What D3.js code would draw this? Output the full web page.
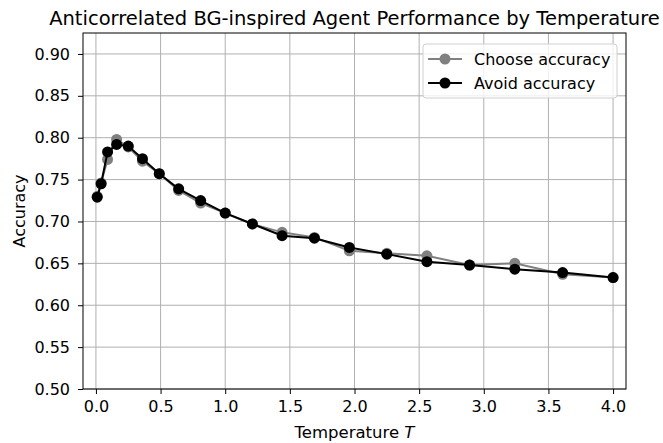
<!DOCTYPE html>
<html>
<head>
<meta charset="utf-8">
<script src="https://cdn.jsdelivr.net/npm/d3@7"></script>
<style>
    body { margin: 0; background: #fff; }
    text { font-family: "DejaVu Sans", sans-serif; fill: #000; }
</style>
</head>
<body>
<svg id="chart" width="663" height="443"></svg>
<script>
// Données
const temperatures = [0.01, 0.04, 0.09, 0.16, 0.25, 0.36, 0.49, 0.64, 0.81, 1.0,
    1.21, 1.44, 1.69, 1.96, 2.25, 2.56, 2.89, 3.24, 3.61, 4.0];
const chooseAccuracy = [0.730, 0.746, 0.774, 0.798, 0.789, 0.772, 0.757, 0.737, 0.722, 0.710,
    0.697, 0.687, 0.681, 0.665, 0.662, 0.659, 0.648, 0.650, 0.637, 0.633];
const avoidAccuracy = [0.729, 0.745, 0.783, 0.792, 0.790, 0.775, 0.757, 0.739, 0.725, 0.710,
    0.697, 0.683, 0.680, 0.669, 0.661, 0.652, 0.648, 0.643, 0.639, 0.633];
const xTicks = [0, 0.5, 1, 1.5, 2, 2.5, 3, 3.5, 4];
const yTicks = [0.50, 0.55, 0.60, 0.65, 0.70, 0.75, 0.80, 0.85, 0.90];
const seriesNames = ['Choose accuracy', 'Avoid accuracy'];
const seriesColors = ['#808080', '#000000'];

const svg = d3.select('#chart');
const margin = { top: 33, right: 37, bottom: 54, left: 83 };
const width = 663 - margin.left - margin.right;
const height = 443 - margin.top - margin.bottom;

const x = d3.scaleLinear().domain([-0.1, 4.1]).range([0, width]);
const y = d3.scaleLinear().domain([0.5, 0.925]).range([height, 0]);

const plot = svg.append('g')
    .attr('transform', `translate(${margin.left},${margin.top})`);

// Grille
plot.append('g').selectAll('line').data(xTicks).enter().append('line')
    .attr('x1', d => x(d)).attr('x2', d => x(d))
    .attr('y1', 0).attr('y2', height)
    .attr('stroke', '#b0b0b0').attr('stroke-width', 1);
plot.append('g').selectAll('line').data(yTicks).enter().append('line')
    .attr('x1', 0).attr('x2', width)
    .attr('y1', d => y(d)).attr('y2', d => y(d))
    .attr('stroke', '#b0b0b0').attr('stroke-width', 1);

// Axes
const xAxis = d3.axisBottom(x).tickValues(xTicks).tickFormat(d3.format('.1f')).tickSize(5).tickPadding(7);
const yAxis = d3.axisLeft(y).tickValues(yTicks).tickFormat(d3.format('.2f')).tickSize(5).tickPadding(8);

const gx = plot.append('g').attr('transform', `translate(0,${height})`).call(xAxis);
const gy = plot.append('g').call(yAxis);
[gx, gy].forEach(g => {
    g.select('.domain').remove();
    g.selectAll('text').attr('font-size', 16).attr('fill', '#000')
        .attr('font-family', '"DejaVu Sans", sans-serif');
    g.selectAll('line').attr('stroke', '#000');
});

// Cadre
plot.append('rect')
    .attr('width', width).attr('height', height)
    .attr('fill', 'none').attr('stroke', '#000').attr('stroke-width', 1);

// Séries
const series = [chooseAccuracy, avoidAccuracy];
const line = d3.line().x((d, i) => x(temperatures[i])).y(d => y(d));
series.forEach((values, s) => {
    plot.append('path')
        .datum(values)
        .attr('d', line)
        .attr('fill', 'none')
        .attr('stroke', seriesColors[s])
        .attr('stroke-width', 2);
    plot.selectAll('.pt' + s)
        .data(values)
        .enter().append('circle')
        .attr('class', 'pt' + s)
        .attr('cx', (d, i) => x(temperatures[i]))
        .attr('cy', d => y(d))
        .attr('r', 5.5)
        .attr('fill', seriesColors[s]);
});

// Titre et libellés
svg.append('text')
    .attr('x', margin.left + width / 2).attr('y', 25)
    .attr('text-anchor', 'middle').attr('font-size', 19.5)
    .text('Anticorrelated BG-inspired Agent Performance by Temperature');

const xl = svg.append('text')
    .attr('x', margin.left + width / 2).attr('y', 438)
    .attr('text-anchor', 'middle').attr('font-size', 16.5);
xl.append('tspan').text('Temperature ');
xl.append('tspan').attr('font-style', 'italic').text('T');

svg.append('text')
    .attr('transform', `translate(25,${margin.top + height / 2}) rotate(-90)`)
    .attr('text-anchor', 'middle').attr('font-size', 16)
    .text('Accuracy');

// Légende
const legend = svg.append('g').attr('transform', 'translate(423,44)');
legend.append('rect')
    .attr('width', 194).attr('height', 54).attr('rx', 3)
    .attr('fill', '#fff').attr('fill-opacity', 0.8)
    .attr('stroke', '#d0d0d0');
seriesNames.forEach((name, i) => {
    const yy = 15 + i * 24;
    legend.append('line')
        .attr('x1', 5).attr('x2', 39).attr('y1', yy).attr('y2', yy)
        .attr('stroke', seriesColors[i]).attr('stroke-width', 2);
    legend.append('circle')
        .attr('cx', 22).attr('cy', yy).attr('r', 5.5)
        .attr('fill', seriesColors[i]);
    legend.append('text')
        .attr('x', 51).attr('y', yy + 6)
        .attr('font-size', 16)
        .text(name);
});
</script>
</body>
</html>
